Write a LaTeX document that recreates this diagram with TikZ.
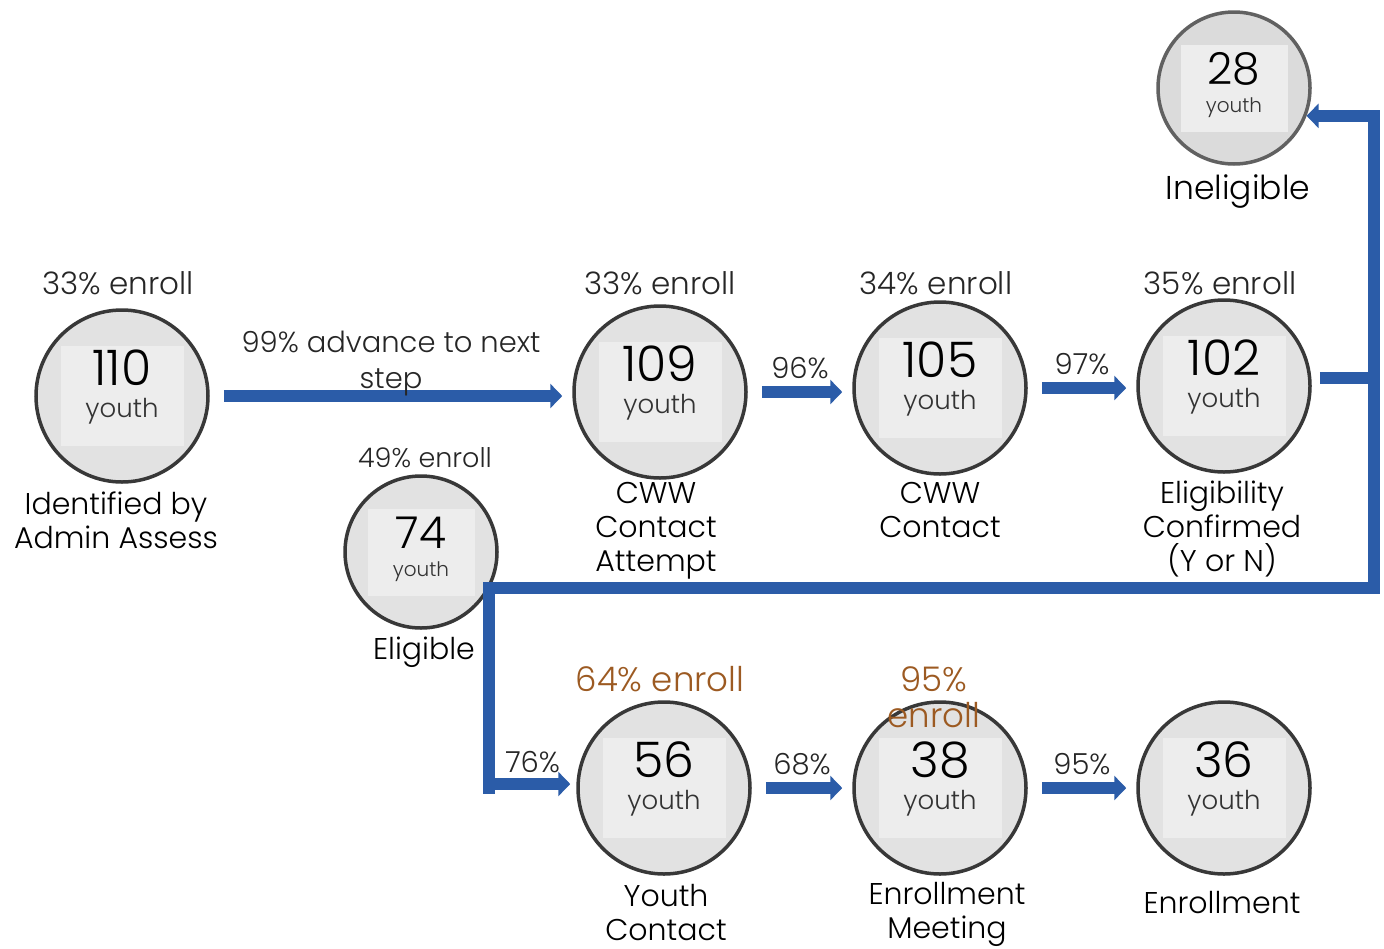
\documentclass[tikz,border=0pt]{standalone}
\usepackage{fontspec}
\setmainfont{Poppins Light}
\usetikzlibrary{positioning,arrows.meta}

\definecolor{flowblue}{HTML}{2B5CA8}
\definecolor{enrollbrown}{HTML}{9C5A22}
\definecolor{bubblefill}{HTML}{E2E2E2}
\definecolor{cardfill}{HTML}{EDEDED}

\tikzset{
  bubble/.style={circle,draw=black!78,line width=3.5pt,fill=bubblefill,minimum size=172pt,inner sep=0pt},
  small/.style={minimum size=152pt},
  faded/.style={draw=black!62,fill=black!14},
  plain/.style={},
  card/.style={fill=cardfill,minimum width=123pt,minimum height=100pt,inner sep=0pt},
  smallcard/.style={card,minimum width=107pt,minimum height=87pt},
  count/.style={font=\fontsize{49}{32}\selectfont,align=center,inner sep=0pt},
  smallcount/.style={font=\fontsize{44}{28}\selectfont,align=center,inner sep=0pt},
  caption/.style={font=\fontsize{30}{34}\selectfont,align=center,inner sep=0pt},
  enroll/.style={font=\fontsize{31}{36}\selectfont,text=black!85,align=center,inner sep=0pt},
  rate/.style={font=\fontsize{29}{36}\selectfont,text=black!85,align=center,inner sep=0pt},
  flow/.style={draw=flowblue,line width=12pt,-{Triangle[width=24pt,length=12pt]}},
  flowline/.style={draw=flowblue,line width=12pt,line join=miter}
}

\begin{document}
\begin{tikzpicture}[x=1pt,y=-1pt]
\useasboundingbox (0,0) rectangle (1384,948);

% big stations
\foreach \nm/\px/\py/\cnt in {n110/122/396/110, n109/660/392/109, n105/940/388/105, n102/1224/386/102,
                              n56/664/788/56, n38/940/788/38, n36/1224/788/36}{
  \node[bubble] (\nm) at (\px,\py) {};
  \node[card] (\nm card) at (\nm) {};
  \node[count] (\nm count) at ([yshift=9pt]\nm)
    {\cnt\\{\fontsize{26}{32}\selectfont\color{black!80}youth}};
}

% small stations
\foreach \nm/\px/\py/\cnt/\look in {n28/1234/88/28/faded, n74/421/552/74/plain}{
  \node[bubble,small,\look] (\nm) at (\px,\py) {};
  \node[smallcard] (\nm card) at (\nm) {};
  \node[smallcount] (\nm count) at ([yshift=3pt]\nm)
    {\cnt\\{\fontsize{20}{28}\selectfont\color{black!80}youth}};
}

% enroll rates
\node[enroll] (e110) at (118,283) {33\% enroll};
\node[enroll] (e109) at (660,283) {33\% enroll};
\node[enroll] (e105) at (936,283) {34\% enroll};
\node[enroll] (e102) at (1220,283) {35\% enroll};
\node[enroll,font=\fontsize{27}{30}\selectfont] (e74) at (425,458) {49\% enroll};
\node[enroll,text=enrollbrown,font=\fontsize{34}{36}\selectfont] (e56) at (660,679) {64\% enroll};
\node[enroll,text=enrollbrown,font=\fontsize{34}{36}\selectfont] (e38) at (934,697) {95\%\\enroll};

% captions
\node[caption] (c110) at (116,520) {Identified by\\Admin Assess};
\node[caption] (c109) at (656,531) {CWW\\Contact\\Attempt};
\node[caption] (c105) at (940,510) {CWW\\Contact};
\node[caption] (c102) at (1222,529) {Eligibility\\Confirmed\\(Y or N)};
\node[caption,font=\fontsize{33}{34}\selectfont] (c28) at (1238,192) {Ineligible};
\node[caption] (c74) at (424,652) {Eligible};
\node[caption] (c56) at (666,913) {Youth\\Contact};
\node[caption] (c38) at (947,914) {Enrollment\\Meeting};
\node[caption] (c36) at (1222,903) {Enrollment};

% flows
\draw[flow,shorten <=14pt,shorten >=10pt] (n110) -- (n110 -| n109.west)
  node[rate,midway,above=-6pt] {99\% advance to next\\step};
\draw[flow,shorten <=14pt,shorten >=10pt] (n109) -- (n109 -| n105.west) node[rate,midway,above=7pt] {96\%};
\draw[flow,shorten <=14pt,shorten >=10pt] (n105) -- (n105 -| n102.west) node[rate,midway,above=7pt] {97\%};
\draw[flow,shorten <=14pt,shorten >=10pt] (n56) -- (n38) node[rate,midway,above=7pt] {68\%};
\draw[flow,shorten <=14pt,shorten >=10pt] (n38) -- (n36) node[rate,midway,above=7pt] {95\%};

\coordinate (split) at (1374,378);
\coordinate (bend) at (1374,588);
\coordinate (drop) at (489,588);
\draw[flowline] ([shift={(8pt,8pt)}]n102.east) -- (split);
\draw[flow] (split) |- (n28.-21);
\draw[flowline] (split) -- (bend) -- (drop) -- ([yshift=-6pt]drop |- n56);
\draw[flow,shorten >=6pt] (drop) |- ([yshift=4pt]n56.west) node[rate,pos=0.75,above=5pt] {76\%};
\end{tikzpicture}
\end{document}
